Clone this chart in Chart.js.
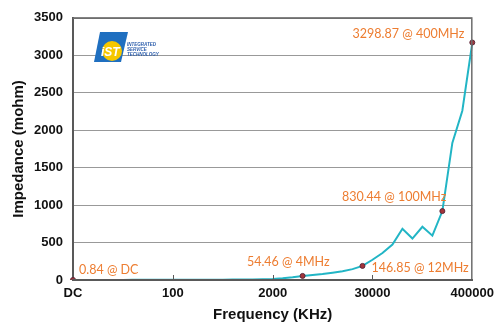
<!DOCTYPE html>
<html>
<head>
<meta charset="utf-8">
<script src="https://cdn.jsdelivr.net/npm/chart.js@4.4.1/dist/chart.umd.min.js"></script>
<style>
  html, body { margin: 0; padding: 0; background: #fff; }
  #wrap { width: 500px; height: 328px; }
</style>
</head>
<body>
<div id="wrap"><canvas id="impChart" width="500" height="328"></canvas></div>
<script>
// frequency points (KHz) and measured impedance (mohm)
const categories = ['DC', '10', '20', '30', '40', '50', '60', '70', '80', '90',
    '100', '200', '300', '400', '500', '600', '700', '800', '900', '1000',
    '2000', '2500', '3000', '4000', '5000', '6000', '7000', '8000', '10000', '12000',
    '30000', '40000', '50000', '60000', '70000', '80000', '90000', '100000', '200000', '300000',
    '400000'];
const impedance = [0.84, 1, 1, 1, 1, 1, 2, 2, 2, 2,
    2, 3, 3, 4, 4, 5, 6, 7, 8, 10,
    13, 22, 36, 54.46, 66, 80, 98, 118, 145, 188,
    270, 360, 474, 684, 553, 711, 592, 920, 1830, 2260,
    3170];
const shownTicks = ['DC', '100', '2000', '30000', '400000'];
const yTicks = [0, 500, 1000, 1500, 2000, 2500, 3000, 3500];
const markIdx = [0, 23, 29, 37, 40];
const markText = ['0.84 @ DC', '54.46 @ 4MHz', '146.85 @ 12MHz', '830.44 @ 100MHz', '3298.87 @ 400MHz'];

// where each note sits relative to its point
const noteStyle = [
    { dx: 6, dy: -10, align: 'left' },
    { dx: 27, dy: -14, align: 'right' },
    { dx: 9, dy: 2, align: 'left' },
    { dx: 4, dy: -14, align: 'right' },
    { dx: -8, dy: -9, align: 'right' }
];

const extras = {
    id: 'extras',
    afterDatasetsDraw(chart) {
        const { ctx, chartArea: a } = chart;
        const x = chart.scales.x;
        ctx.save();

        // frame top / right
        ctx.strokeStyle = '#6e6e6e';
        ctx.lineWidth = 1.5;
        ctx.beginPath();
        ctx.moveTo(a.left, a.top + 0.5);
        ctx.lineTo(a.right - 0.5, a.top + 0.5);
        ctx.lineTo(a.right - 0.5, a.bottom);
        ctx.stroke();

        // small inside tick marks
        ctx.strokeStyle = '#595959';
        ctx.lineWidth = 1;
        shownTicks.slice(1, -1).forEach(t => {
            const px = Math.round(x.getPixelForValue(categories.indexOf(t))) + 0.5;
            ctx.beginPath();
            ctx.moveTo(px, a.bottom - 5);
            ctx.lineTo(px, a.bottom);
            ctx.stroke();
        });

        // notes
        const pts = chart.getDatasetMeta(0).data;
        ctx.font = '12.5px Lato, "Liberation Sans", sans-serif';
        ctx.fillStyle = '#ED7D31';
        ctx.textBaseline = 'middle';
        markIdx.forEach((idx, i) => {
            const p = pts[idx];
            const s = noteStyle[i];
            ctx.textAlign = s.align;
            ctx.fillText(markText[i], p.x + s.dx, p.y + s.dy);
        });

        // logo
        ctx.fillStyle = '#1f6fc0';
        ctx.beginPath();
        ctx.moveTo(100, 32);
        ctx.lineTo(128, 32);
        ctx.lineTo(121, 62);
        ctx.lineTo(94, 62);
        ctx.closePath();
        ctx.fill();
        ctx.fillStyle = '#f6c700';
        ctx.beginPath();
        ctx.arc(112, 51, 10, 0, Math.PI * 2);
        ctx.fill();
        ctx.fillStyle = '#ffffff';
        ctx.font = 'italic bold 12px "Liberation Sans", Arial, sans-serif';
        ctx.textAlign = 'left';
        ctx.fillText('iST', 101, 53);
        ctx.fillStyle = '#2a5cab';
        ctx.font = 'italic bold 4.5px "Liberation Sans", Arial, sans-serif';
        ctx.fillText('INTEGRATED', 127, 45);
        ctx.fillText('SERVICE', 127, 50);
        ctx.fillText('TECHNOLOGY', 127, 55);
        ctx.restore();
    }
};

new Chart(document.getElementById('impChart'), {
    type: 'line',
    data: {
        labels: categories,
        datasets: [{
            data: impedance,
            borderColor: '#22b5c5',
            borderWidth: 2,
            tension: 0,
            pointRadius: c => markIdx.includes(c.dataIndex) ? 2.5 : 0,
            pointBackgroundColor: '#a3343a',
            pointBorderColor: '#5b2a3c',
            pointBorderWidth: 1
        }]
    },
    options: {
        responsive: false,
        animation: false,
        layout: { padding: { top: 14, right: 27, left: 0, bottom: 0 } },
        plugins: { legend: { display: false }, tooltip: { enabled: false } },
        scales: {
            x: {
                type: 'category',
                grid: { display: false, drawTicks: false },
                border: { display: true, color: '#595959', width: 2, z: 1 },
                ticks: {
                    autoSkip: false,
                    maxRotation: 0,
                    padding: 6,
                    color: '#111',
                    font: { family: '"Liberation Sans", Arial, sans-serif', size: 13, weight: 'bold' },
                    callback(v) {
                        const lab = this.getLabelForValue(v);
                        return shownTicks.includes(lab) ? lab : null;
                    }
                },
                title: {
                    display: true,
                    text: 'Frequency (KHz)',
                    color: '#111',
                    font: { family: '"Liberation Sans", Arial, sans-serif', size: 15, weight: 'bold' },
                    padding: { top: 0, bottom: 4 }
                },
                afterFit(s) { s.height = 48; }
            },
            y: {
                min: yTicks[0],
                max: yTicks[yTicks.length - 1],
                grid: {
                    drawTicks: false,
                    color: c => c.tick.value === 0 ? 'rgba(0,0,0,0)' : '#999999',
                    lineWidth: 1
                },
                border: { display: true, color: '#595959', width: 2 },
                afterBuildTicks(s) { s.ticks = yTicks.map(v => ({ value: v })); },
                ticks: {
                    padding: 10,
                    color: '#111',
                    font: { family: '"Liberation Sans", Arial, sans-serif', size: 13, weight: 'bold' },
                    callback: v => String(v)
                },
                title: {
                    display: true,
                    text: 'Impedance (mohm)',
                    color: '#111',
                    font: { family: '"Liberation Sans", Arial, sans-serif', size: 15, weight: 'bold' },
                    padding: { top: 10, bottom: 0 }
                },
                afterFit(s) { s.width = 73; }
            }
        }
    },
    plugins: [extras]
});
</script>
</body>
</html>
